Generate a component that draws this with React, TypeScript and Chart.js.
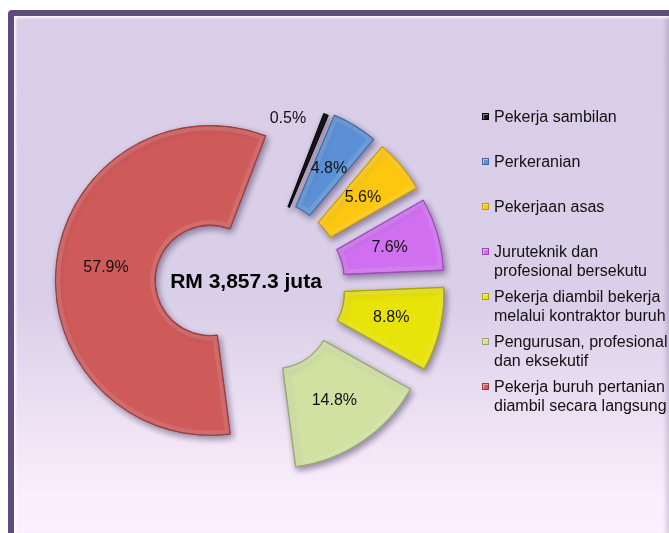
import React, { useEffect, useRef } from 'react';
import { Chart, registerables } from 'chart.js';

Chart.register(...registerables);

// ---- data ----
const categories: string[] = [
  'Pekerja sambilan',
  'Perkeranian',
  'Pekerjaan asas',
  'Juruteknik dan profesional bersekutu',
  'Pekerja diambil bekerja melalui kontraktor buruh',
  'Pengurusan, profesional dan eksekutif',
  'Pekerja buruh pertanian diambil secara langsung',
];
const legendLines: string[][] = [
  ['Pekerja sambilan'],
  ['Perkeranian'],
  ['Pekerjaan asas'],
  ['Juruteknik dan', 'profesional bersekutu'],
  ['Pekerja diambil bekerja', 'melalui kontraktor buruh'],
  ['Pengurusan, profesional', 'dan eksekutif'],
  ['Pekerja buruh pertanian', 'diambil secara langsung'],
];
const shares: number[] = [0.5, 4.8, 5.6, 7.6, 8.8, 14.8, 57.9];
const totalLabel = 'RM 3,857.3 juta';

// ---- styles ----
const fillColors = ['#151515', '#5b91d4', '#fcc70e', '#d070f0', '#e8e40a', '#d0e1a2', '#cf5a5a'];
const edgeColors = ['#000000', '#3d6aa3', '#c99a00', '#9c45b8', '#a8a300', '#93a86a', '#943a3a'];
const explodePx = [30, 33, 33, 33, 33, 33, 47];
const FONT = "'Liberation Sans', Arial, sans-serif";

const explodePlugin = {
  id: 'explodeSlices',
  afterDatasetUpdate(chart: any, args: any) {
    args.meta.data.forEach((arc: any, i: number) => {
      const mid = (arc.startAngle + arc.endAngle) / 2;
      const t = explodePx[i] || 0;
      arc.x += Math.cos(mid) * t;
      arc.y += Math.sin(mid) * t;
    });
  },
};

const shadowPlugin = {
  id: 'sliceShadow',
  beforeDatasetDraw(chart: any) {
    const ctx = chart.ctx;
    ctx.save();
    ctx.shadowColor = 'rgba(40,20,60,0.45)';
    ctx.shadowBlur = 6;
    ctx.shadowOffsetX = 2;
    ctx.shadowOffsetY = 3;
  },
  afterDatasetDraw(chart: any) {
    chart.ctx.restore();
    // soft bevel rim on each slice
    const ctx = chart.ctx;
    const meta = chart.getDatasetMeta(0);
    meta.data.forEach((arc: any, i: number) => {
      if (shares[i] < 2) return;
      ctx.save();
      ctx.beginPath();
      ctx.arc(arc.x, arc.y, arc.outerRadius, arc.startAngle, arc.endAngle);
      ctx.arc(arc.x, arc.y, arc.innerRadius, arc.endAngle, arc.startAngle, true);
      ctx.closePath();
      ctx.clip();
      ctx.lineJoin = 'round';
      ctx.shadowColor = 'rgba(255,255,255,0.35)';
      ctx.shadowBlur = 6;
      ctx.strokeStyle = 'rgba(255,255,255,0.10)';
      ctx.lineWidth = 10;
      ctx.stroke();
      ctx.shadowBlur = 0;
      ctx.shadowColor = 'transparent';
      ctx.strokeStyle = edgeColors[i];
      ctx.lineWidth = 1.5;
      ctx.stroke();
      ctx.restore();
    });
  },
};

const labelPlugin = {
  id: 'sliceLabels',
  afterDatasetsDraw(chart: any) {
    const ctx = chart.ctx;
    const meta = chart.getDatasetMeta(0);
    ctx.save();
    ctx.fillStyle = '#111';
    ctx.font = `16px ${FONT}`;
    ctx.textBaseline = 'middle';
    meta.data.forEach((arc: any, i: number) => {
      const mid = (arc.startAngle + arc.endAngle) / 2;
      const text = `${shares[i].toFixed(1)}%`;
      if (shares[i] < 2) {
        const r = arc.outerRadius - 5;
        const x = arc.x + Math.cos(mid) * r;
        const y = arc.y + Math.sin(mid) * r;
        ctx.textAlign = 'right';
        ctx.fillText(text, x - 18, y);
      } else {
        const r = (arc.innerRadius + arc.outerRadius) / 2;
        const x = arc.x + Math.cos(mid) * r;
        const y = arc.y + Math.sin(mid) * r;
        ctx.textAlign = 'center';
        ctx.fillText(text, x, y);
      }
    });
    const a = chart.chartArea;
    const cx = (a.left + a.right) / 2;
    const cy = (a.top + a.bottom) / 2;
    ctx.font = `bold 21px ${FONT}`;
    ctx.textAlign = 'center';
    ctx.textBaseline = 'alphabetic';
    ctx.fillStyle = '#000';
    ctx.fillText(totalLabel, cx - 11, cy + 2);
    ctx.restore();
  },
};

export default function App() {
  const canvasRef = useRef<HTMLCanvasElement | null>(null);

  useEffect(() => {
    if (!canvasRef.current) return;
    const chart = new Chart(canvasRef.current, {
      type: 'doughnut',
      data: {
        labels: categories,
        datasets: [
          {
            data: shares,
            backgroundColor: fillColors,
            borderColor: edgeColors,
            borderWidth: 1,
            clip: false as any,
          },
        ],
      },
      options: {
        responsive: false,
        animation: false,
        rotation: 21,
        radius: 155,
        cutout: '35.5%',
        layout: { padding: { left: 0, right: 155, top: 39, bottom: 0 } },
        plugins: {
          legend: { display: false },
          tooltip: { enabled: false },
        },
      } as any,
      plugins: [explodePlugin, shadowPlugin, labelPlugin],
    });
    return () => chart.destroy();
  }, []);

  return (
    <div style={{ position: 'fixed', left: 0, top: 0, width: 669, height: 533, overflow: 'hidden', background: '#fff' }}>
      <div
        style={{
          position: 'absolute',
          left: 8,
          top: 10,
          width: 667,
          height: 534,
          boxSizing: 'border-box',
          border: '6px solid #5f4b7d',
          borderRadius: 4,
          background: 'linear-gradient(to bottom, #d9cde7 0%, #dacfe8 55%, #ece0f3 76%, #fbeefd 92%, #fdf0fe 100%)',
          boxShadow: 'inset 3px 3px 3px -1px rgba(255,255,255,0.85), inset -4px -3px 4px -1px rgba(90,70,110,0.22)',
        }}
      />
      <canvas ref={canvasRef} width={669} height={533} style={{ position: 'absolute', left: 0, top: 0, width: 669, height: 533 }} />
      {legendLines.map((lines, i) => (
        <div key={i} style={{ position: 'absolute', left: 0, top: 0 }}>
          <div
            style={{
              position: 'absolute',
              left: 482,
              top: 113 + 45 * i,
              width: 7,
              height: 7,
              boxSizing: 'border-box',
              background: fillColors[i],
              border: `1px solid ${edgeColors[i]}`,
              boxShadow: 'inset 1px 1px 1px rgba(255,255,255,0.5)',
            }}
          />
          <div
            style={{
              position: 'absolute',
              left: 494,
              top: 108 + 45 * i,
              font: `16px ${FONT}`,
              lineHeight: '18.5px',
              color: '#111',
              whiteSpace: 'nowrap',
            }}
          >
            {lines.map((l, j) => (
              <div key={j}>{l}</div>
            ))}
          </div>
        </div>
      ))}
    </div>
  );
}
